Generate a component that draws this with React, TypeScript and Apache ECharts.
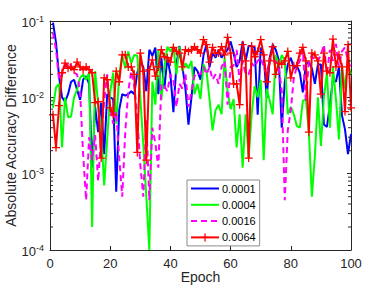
import React, { useEffect, useRef } from "react";
import * as echarts from "echarts";

const epochs = Array.from({ length: 100 }, (_, i) => i + 1);

const lr0001 = [
  0.095, 0.052, 0.019, 0.010, 0.0088, 0.011, 0.016, 0.017, 0.0126, 0.0093,
  0.017, 0.019, 0.015, 0.0012, 0.0075, 0.0035, 0.0085, 0.0018, 0.011, 0.010,
  0.0095, 0.00058, 0.0069, 0.011, 0.0105, 0.011, 0.012, 0.011, 0.021, 0.029,
  0.025, 0.012, 0.042, 0.035, 0.045, 0.011, 0.033, 0.013, 0.033, 0.020,
  0.0064, 0.027, 0.047, 0.025, 0.013, 0.0044, 0.010, 0.025, 0.022, 0.017,
  0.036, 0.049, 0.025, 0.038, 0.033, 0.042, 0.033, 0.038, 0.042, 0.054,
  0.038, 0.025, 0.030, 0.054, 0.030, 0.047, 0.047, 0.045, 0.0059, 0.045,
  0.035, 0.0098, 0.033, 0.049, 0.042, 0.031, 0.0040, 0.016, 0.027, 0.033,
  0.024, 0.026, 0.021, 0.0116, 0.027, 0.029, 0.024, 0.015, 0.027, 0.027,
  0.0044, 0.0041, 0.008, 0.017, 0.016, 0.025, 0.0058, 0.0038, 0.0018, 0.0033,
];

const lr0004 = [
  0.0073, 0.0135, 0.015, 0.0022, 0.010, 0.0055, 0.0056, 0.010, 0.0126, 0.018,
  0.020, 0.017, 0.021, 0.0002, 0.022, 0.008, 0.0035, 0.0007, 0.0028, 0.012,
  0.021, 0.0045, 0.020, 0.036, 0.024, 0.040, 0.028, 0.036, 0.035, 0.010,
  0.0024, 0.0005, 0.0001, 0.016, 0.008, 0.042, 0.0093, 0.025, 0.046, 0.040,
  0.046, 0.020, 0.046, 0.022, 0.028, 0.024, 0.030, 0.011, 0.015, 0.0095,
  0.027, 0.022, 0.0095, 0.0037, 0.0068, 0.008, 0.006, 0.033, 0.012, 0.007,
  0.0095, 0.0022, 0.006, 0.0012, 0.006, 0.0016, 0.006, 0.014, 0.010, 0.017,
  0.0015, 0.013, 0.009, 0.006, 0.036, 0.025, 0.036, 0.030, 0.006, 0.0075,
  0.006, 0.0042, 0.0040, 0.009, 0.0095, 0.0035, 0.0005, 0.0017, 0.010, 0.0023,
  0.010, 0.021, 0.004, 0.025, 0.0095, 0.0028, 0.026, 0.013, 0.027, 0.020,
];

const lr0016 = [
  0.07, 0.042, 0.017, 0.020, 0.024, 0.029, 0.026, 0.021, 0.020, 0.012,
  0.0018, 0.00045, 0.003, 0.0015, 0.0032, 0.0008, 0.003, 0.009, 0.020, 0.007,
  0.0045, 0.0065, 0.0016, 0.0005, 0.0035, 0.012, 0.022, 0.014, 0.0055, 0.0013,
  0.0005, 0.005, 0.00045, 0.004, 0.0025, 0.0012, 0.015, 0.014, 0.012, 0.020,
  0.017, 0.0075, 0.015, 0.013, 0.020, 0.0075, 0.012, 0.019, 0.021, 0.020,
  0.025, 0.020, 0.025, 0.017, 0.020, 0.015, 0.025, 0.030, 0.008, 0.025,
  0.026, 0.042, 0.016, 0.030, 0.020, 0.020, 0.028, 0.025, 0.030, 0.033,
  0.025, 0.020, 0.033, 0.028, 0.030, 0.025, 0.012, 0.00045, 0.0037, 0.0068,
  0.018, 0.025, 0.030, 0.042, 0.009, 0.030, 0.035, 0.030, 0.030, 0.036,
  0.049, 0.020, 0.042, 0.030, 0.050, 0.025, 0.040, 0.045, 0.030, 0.024,
];

const lr0064 = [
  0.0059, 0.0022, 0.0078, 0.021, 0.028, 0.024, 0.025, 0.023, 0.029, 0.025,
  0.023, 0.025, 0.023, 0.021, 0.0085, 0.0088, 0.0016, 0.018, 0.017, 0.0073,
  0.0059, 0.022, 0.016, 0.036, 0.036, 0.025, 0.025, 0.020, 0.0019, 0.038,
  0.022, 0.0015, 0.023, 0.031, 0.019, 0.025, 0.042, 0.034, 0.033, 0.029,
  0.045, 0.040, 0.038, 0.025, 0.042, 0.040, 0.042, 0.046, 0.042, 0.038,
  0.057, 0.049, 0.029, 0.045, 0.038, 0.038, 0.046, 0.036, 0.061, 0.038,
  0.015, 0.015, 0.008, 0.049, 0.030, 0.0016, 0.047, 0.034, 0.040, 0.057,
  0.036, 0.016, 0.030, 0.046, 0.020, 0.028, 0.027, 0.030, 0.040, 0.018,
  0.026, 0.026, 0.038, 0.045, 0.030, 0.0035, 0.038, 0.036, 0.030, 0.011,
  0.038, 0.022, 0.021, 0.058, 0.025, 0.036, 0.025, 0.0065, 0.049, 0.0073,
];

const seriesNames = ["0.0001", "0.0004", "0.0016", "0.0064"];
const seriesValues = [lr0001, lr0004, lr0016, lr0064];
const seriesColors = ["#0000ff", "#00ff00", "#ff00ff", "#ff0000"];
const yDecades = [1e-4, 1e-3, 1e-2, 1e-1];
const minorMultipliers = [2, 3, 4, 5, 6, 7, 8, 9];

const FONT = "'Liberation Sans', Arial, Helvetica, sans-serif";
const AX = "#262626";
const PLUS = "path://M4.2 0H5.8V4.2H10V5.8H5.8V10H4.2V5.8H0V4.2H4.2Z";

export default function App() {
  const ref = useRef<HTMLDivElement>(null);
  useEffect(() => {
    const chart = echarts.init(ref.current!, null, { renderer: "svg" });
    const minorTicks: number[][] = [];
    yDecades.slice(0, -1).forEach((d) =>
      minorMultipliers.forEach((m) => minorTicks.push([0, d * m]))
    );

    const lineSeries = seriesNames.map((name, k) => {
      const isRed = k === 3;
      return {
        type: "line",
        name,
        data: epochs.map((e, i) => [e, seriesValues[k][i]]),
        symbol: isRed ? PLUS : "none",
        symbolSize: 8,
        showSymbol: isRed,
        itemStyle: { color: seriesColors[k] },
        lineStyle: {
          color: seriesColors[k],
          width: 2,
          type: k === 2 ? [6, 4] : "solid",
        },
        z: 2 + k,
      };
    });

    const xBase = {
      type: "value",
      min: 0,
      max: 100,
      interval: 20,
      splitLine: { show: false },
      axisLine: { show: true, onZero: false, lineStyle: { color: AX, width: 1 } },
      axisTick: { show: true, inside: true, length: 4, lineStyle: { color: AX } },
    };
    const yBase = {
      type: "log",
      logBase: 10,
      min: 1e-4,
      max: 1e-1,
      splitLine: { show: false },
      axisLine: { show: true, onZero: false, lineStyle: { color: AX, width: 1 } },
      axisTick: { show: true, inside: true, length: 4, lineStyle: { color: AX } },
      axisLabel: { show: false },
    };

    chart.setOption({
      animation: false,
      backgroundColor: "#ffffff",
      grid: { left: 50, top: 21, right: 37, bottom: 41, containLabel: false, outerBoundsMode: "none" },
      xAxis: [
        {
          ...xBase,
          position: "bottom",
          name: "Epoch",
          nameLocation: "middle",
          nameGap: 20,
          nameMoveOverlap: false,
          nameTextStyle: { fontSize: 14, color: AX, fontFamily: FONT },
          axisLabel: { fontSize: 13, color: AX, margin: 7, fontFamily: FONT },
        },
        { ...xBase, position: "top", axisLabel: { show: false } },
      ],
      yAxis: [
        {
          ...yBase,
          position: "left",
          name: "Absolute Accuracy Difference",
          nameLocation: "middle",
          nameGap: 32,
          nameMoveOverlap: false,
          nameTextStyle: { fontSize: 14, color: AX, fontFamily: FONT },
        },
        { ...yBase, position: "right" },
      ],
      legend: {
        data: seriesNames.map((name, k) =>
          k === 3
            ? { name }
            : { name, itemStyle: { opacity: 0, color: "transparent", borderWidth: 0 } }
        ),
        orient: "vertical",
        left: 187,
        top: 180,
        itemWidth: 28,
        itemHeight: 10,
        itemGap: 5.3,
        padding: [3, 4, 3, 3],
        backgroundColor: "#ffffff",
        borderColor: "#8c8c8c",
        borderWidth: 1,
        borderRadius: 0,
        textStyle: { fontSize: 11, color: "#000", fontFamily: FONT, padding: [0, 0, 0, -2] },
      },
      series: [
        ...lineSeries,
        {
          type: "custom",
          name: "minorTicks",
          silent: true,
          clip: false,
          z: 10,
          data: minorTicks,
          renderItem: (params: any, api: any) => {
            const cs = params.coordSys;
            const y = api.coord([0, api.value(1)])[1];
            return {
              type: "group",
              children: [
                { type: "line", shape: { x1: cs.x, y1: y, x2: cs.x + 3, y2: y }, style: { stroke: AX, lineWidth: 1 } },
                { type: "line", shape: { x1: cs.x + cs.width - 3, y1: y, x2: cs.x + cs.width, y2: y }, style: { stroke: AX, lineWidth: 1 } },
              ],
            };
          },
        },
        {
          type: "custom",
          name: "yLabels",
          silent: true,
          clip: false,
          z: 10,
          data: yDecades.map((d) => [0, d]),
          renderItem: (params: any, api: any) => {
            const cs = params.coordSys;
            const v = api.value(1);
            const y = api.coord([0, v])[1];
            const exp = Math.round(Math.log10(v));
            return {
              type: "text",
              x: cs.x - 6,
              y: y + 1,
              style: {
                text: `{b|10}{s|${exp}}`,
                align: "right",
                verticalAlign: "middle",
                fill: AX,
                rich: {
                  b: { fontSize: 13, fill: AX, fontFamily: FONT },
                  s: { fontSize: 9, fill: AX, fontFamily: FONT, padding: [0, 0, 7, 0] },
                },
              },
            };
          },
        },
      ],
    } as any);
    return () => chart.dispose();
  }, []);
  return (
    <div
      ref={ref}
      style={{ position: "fixed", left: 0, top: 0, width: 388, height: 291, background: "#fff" }}
    />
  );
}
